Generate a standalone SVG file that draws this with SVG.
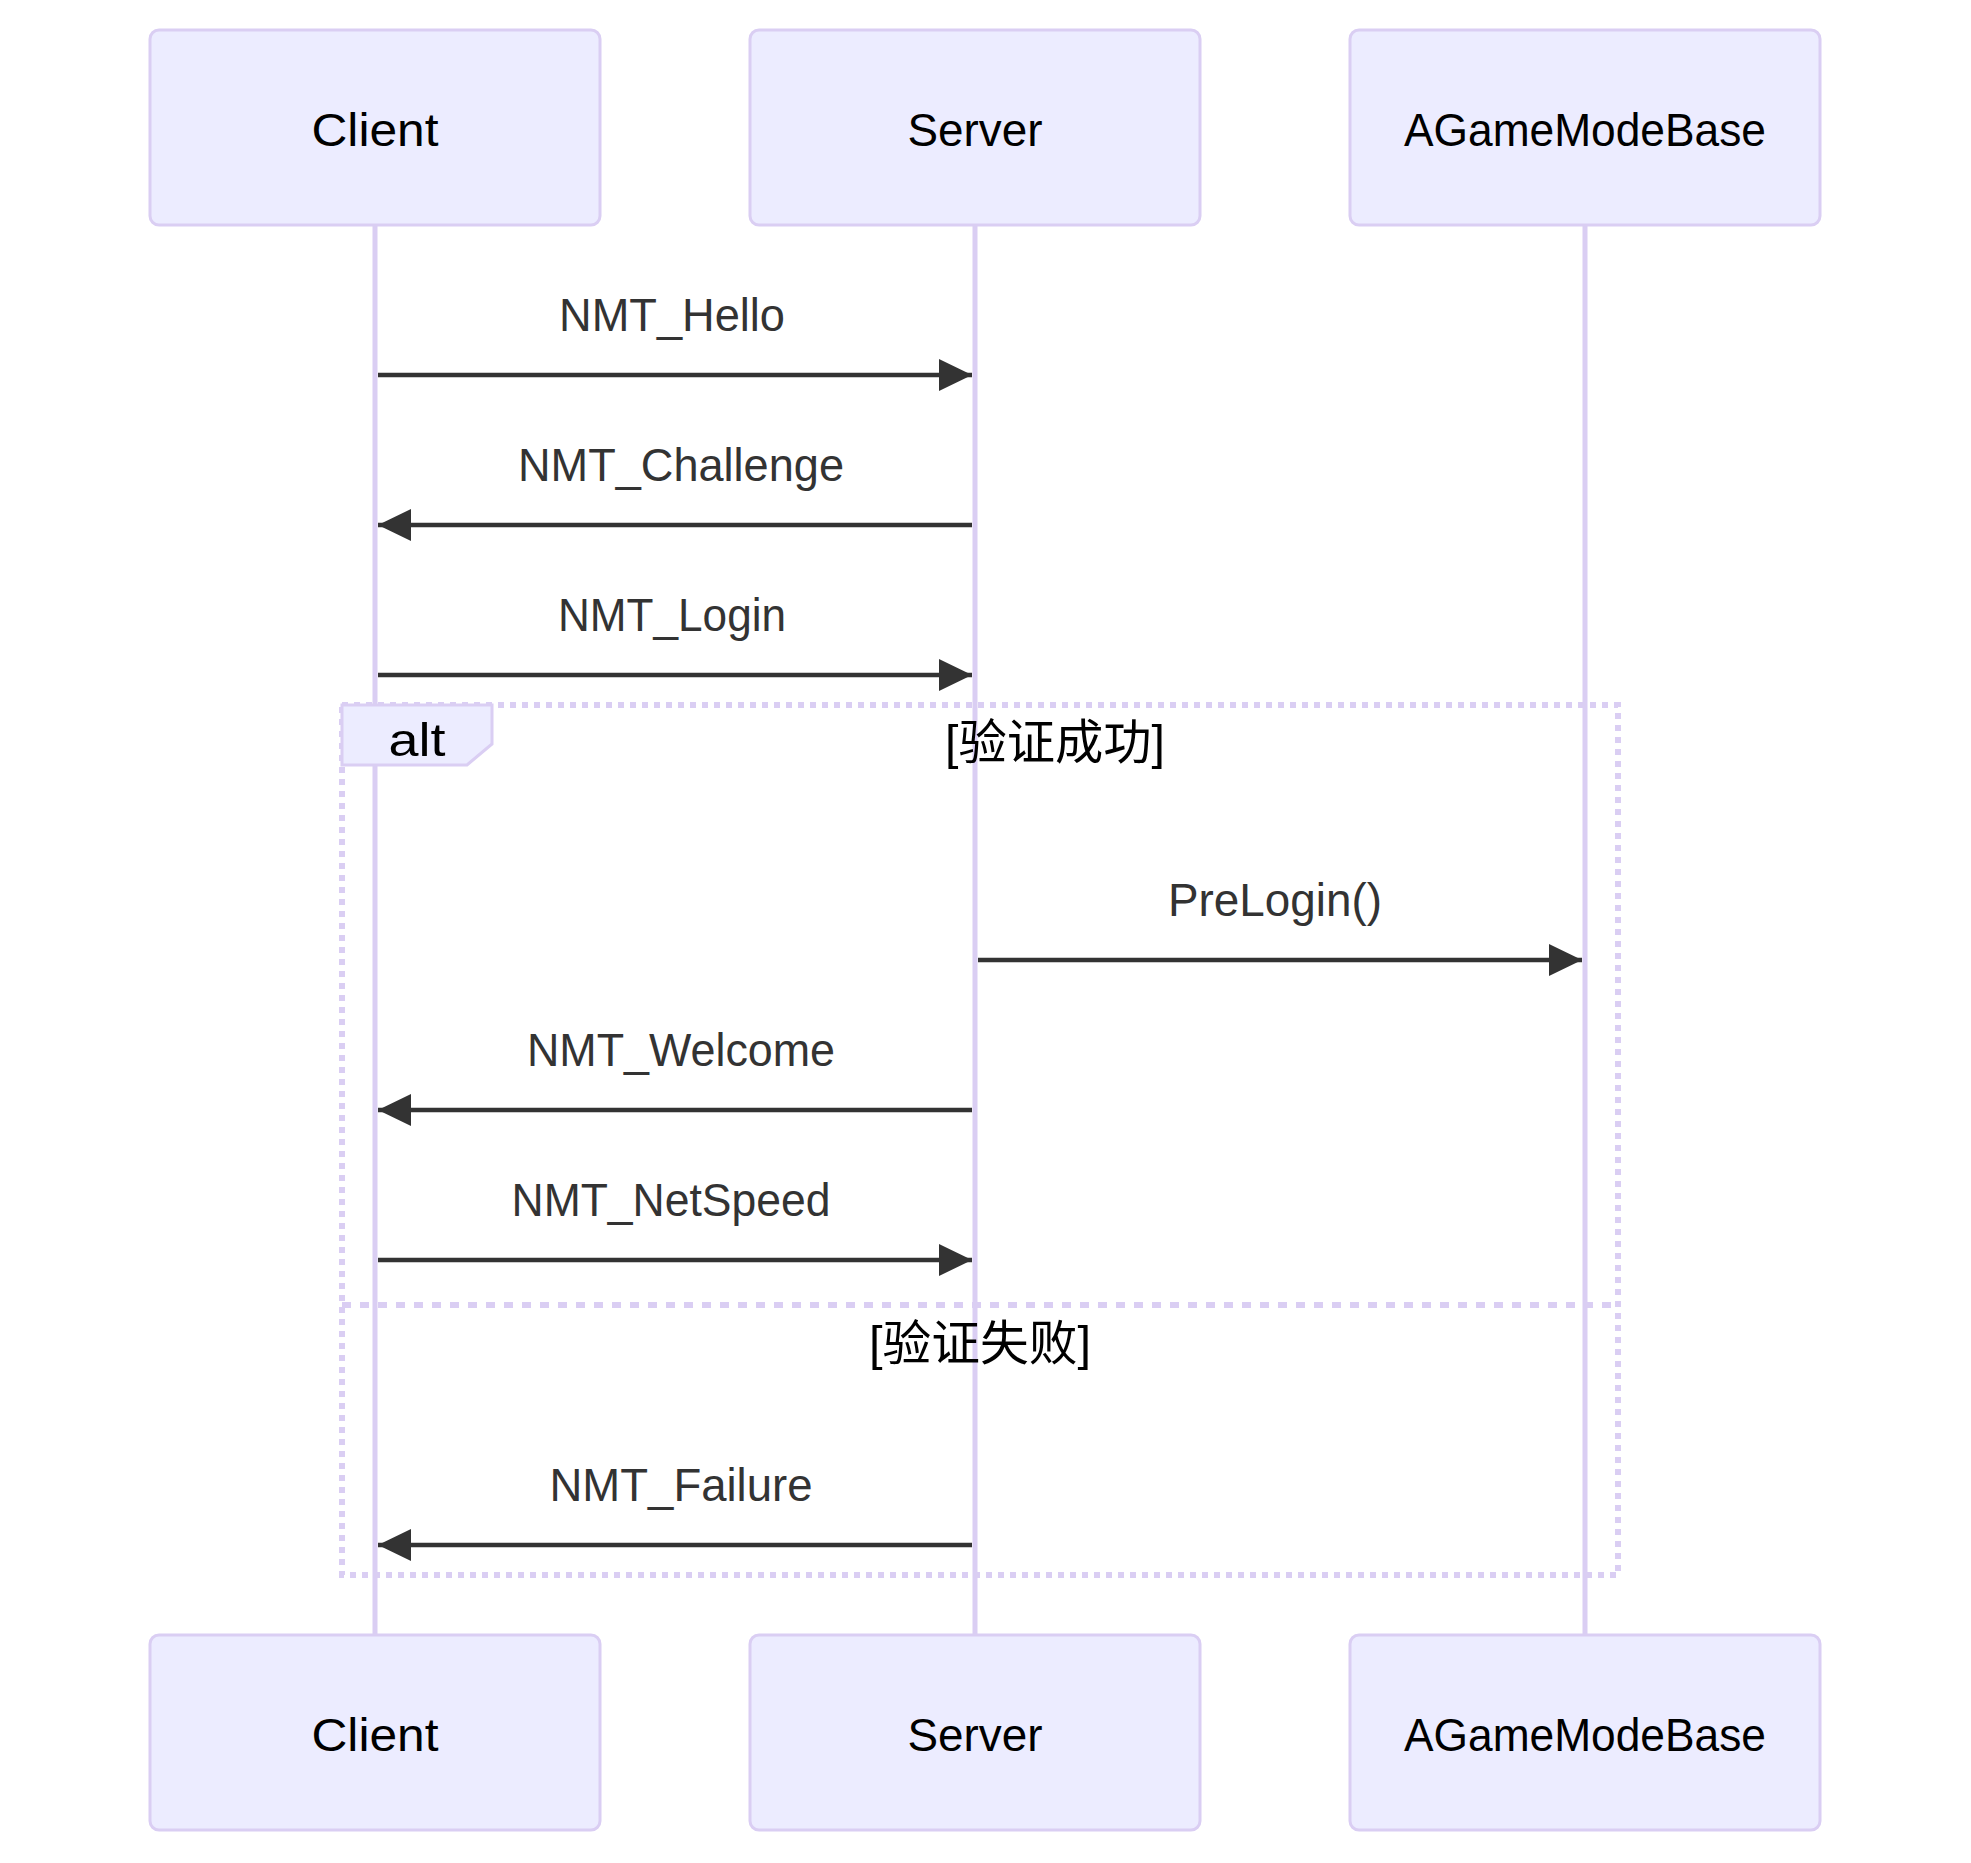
<svg xmlns="http://www.w3.org/2000/svg" width="1971" height="1863" viewBox="0 0 1971 1863">
  <style>
    .actor { fill: #ECECFF; stroke: #DACEF3; stroke-width: 3; }
    .actor-text { font-family: "Liberation Sans", Arial, sans-serif; font-size: 46px; fill: #000000; text-anchor: middle; }
    .lifeline { stroke: #DACEF3; stroke-width: 5; fill: none; }
    .msg-line { stroke: #333333; stroke-width: 4.5; fill: none; }
    .msg-text { font-family: "Liberation Sans", Arial, sans-serif; font-size: 46px; fill: #333333; text-anchor: middle; }
    .loop-line { stroke: #DACEF3; stroke-width: 6; stroke-dasharray: 6 6; fill: none; }
    .loop-divider { stroke: #DACEF3; stroke-width: 6; stroke-dasharray: 9 9; fill: none; }
    .label-box { fill: #ECECFF; stroke: #DACEF3; stroke-width: 3; }
    .label-text { font-family: "Liberation Sans", Arial, sans-serif; font-size: 46px; fill: #000000; text-anchor: middle; }
    .loop-text { font-family: "Liberation Sans", "Noto Sans CJK SC", sans-serif; font-size: 48px; fill: #000000; text-anchor: middle; }
  </style>
  <defs>
    <marker id="arrowhead" markerUnits="userSpaceOnUse" markerWidth="34" markerHeight="32" refX="33" refY="16" orient="auto" viewBox="0 0 34 32">
      <path d="M0,0 L33,16 L0,32 z" fill="#333333"/>
    </marker>
  </defs>

  <rect x="0" y="0" width="1971" height="1863" fill="#ffffff"/>

  <g id="lifelines">
    <line class="lifeline" x1="375" y1="225" x2="375" y2="1635"/>
    <line class="lifeline" x1="975" y1="225" x2="975" y2="1635"/>
    <line class="lifeline" x1="1585" y1="225" x2="1585" y2="1635"/>
  </g>

  <g id="alt-frame">
    <rect class="loop-line" x="342" y="705" width="1276" height="870"/>
    <line class="loop-divider" x1="342" y1="1305" x2="1618" y2="1305"/>
    <polygon class="label-box" points="342,705 492,705 492,744 467,765 342,765"/>
    <text class="label-text" x="417" y="756" textLength="57" lengthAdjust="spacingAndGlyphs">alt</text>
    <text class="loop-text" x="1055" y="759" textLength="220" lengthAdjust="spacingAndGlyphs">[验证成功]</text>
    <text class="loop-text" x="980" y="1360" textLength="222" lengthAdjust="spacingAndGlyphs">[验证失败]</text>
  </g>

  <g id="actor-client-top">
    <rect class="actor" x="150" y="30" width="450" height="195" rx="9" ry="9"/>
    <text class="actor-text" x="375" y="146" textLength="127" lengthAdjust="spacingAndGlyphs">Client</text>
  </g>
  <g id="actor-server-top">
    <rect class="actor" x="750" y="30" width="450" height="195" rx="9" ry="9"/>
    <text class="actor-text" x="975" y="146" textLength="135" lengthAdjust="spacingAndGlyphs">Server</text>
  </g>
  <g id="actor-agamemodebase-top">
    <rect class="actor" x="1350" y="30" width="470" height="195" rx="9" ry="9"/>
    <text class="actor-text" x="1585" y="146" textLength="362" lengthAdjust="spacingAndGlyphs">AGameModeBase</text>
  </g>

  <g id="actor-client-bottom">
    <rect class="actor" x="150" y="1635" width="450" height="195" rx="9" ry="9"/>
    <text class="actor-text" x="375" y="1751" textLength="127" lengthAdjust="spacingAndGlyphs">Client</text>
  </g>
  <g id="actor-server-bottom">
    <rect class="actor" x="750" y="1635" width="450" height="195" rx="9" ry="9"/>
    <text class="actor-text" x="975" y="1751" textLength="135" lengthAdjust="spacingAndGlyphs">Server</text>
  </g>
  <g id="actor-agamemodebase-bottom">
    <rect class="actor" x="1350" y="1635" width="470" height="195" rx="9" ry="9"/>
    <text class="actor-text" x="1585" y="1751" textLength="362" lengthAdjust="spacingAndGlyphs">AGameModeBase</text>
  </g>

  <g id="connectors">
    <g id="msg-hello">
      <text class="msg-text" x="672" y="331" textLength="226" lengthAdjust="spacingAndGlyphs">NMT_Hello</text>
      <line class="msg-line" x1="378" y1="375" x2="972" y2="375" marker-end="url(#arrowhead)"/>
    </g>
    <g id="msg-challenge">
      <text class="msg-text" x="681" y="481" textLength="326" lengthAdjust="spacingAndGlyphs">NMT_Challenge</text>
      <line class="msg-line" x1="972" y1="525" x2="378" y2="525" marker-end="url(#arrowhead)"/>
    </g>
    <g id="msg-login">
      <text class="msg-text" x="672" y="631" textLength="228" lengthAdjust="spacingAndGlyphs">NMT_Login</text>
      <line class="msg-line" x1="378" y1="675" x2="972" y2="675" marker-end="url(#arrowhead)"/>
    </g>
    <g id="msg-prelogin">
      <text class="msg-text" x="1275" y="916" textLength="214" lengthAdjust="spacingAndGlyphs">PreLogin()</text>
      <line class="msg-line" x1="978" y1="960" x2="1582" y2="960" marker-end="url(#arrowhead)"/>
    </g>
    <g id="msg-welcome">
      <text class="msg-text" x="681" y="1066" textLength="308" lengthAdjust="spacingAndGlyphs">NMT_Welcome</text>
      <line class="msg-line" x1="972" y1="1110" x2="378" y2="1110" marker-end="url(#arrowhead)"/>
    </g>
    <g id="msg-netspeed">
      <text class="msg-text" x="671" y="1216" textLength="319" lengthAdjust="spacingAndGlyphs">NMT_NetSpeed</text>
      <line class="msg-line" x1="378" y1="1260" x2="972" y2="1260" marker-end="url(#arrowhead)"/>
    </g>
    <g id="msg-failure">
      <text class="msg-text" x="681" y="1501" textLength="263" lengthAdjust="spacingAndGlyphs">NMT_Failure</text>
      <line class="msg-line" x1="972" y1="1545" x2="378" y2="1545" marker-end="url(#arrowhead)"/>
    </g>
  </g>
</svg>
